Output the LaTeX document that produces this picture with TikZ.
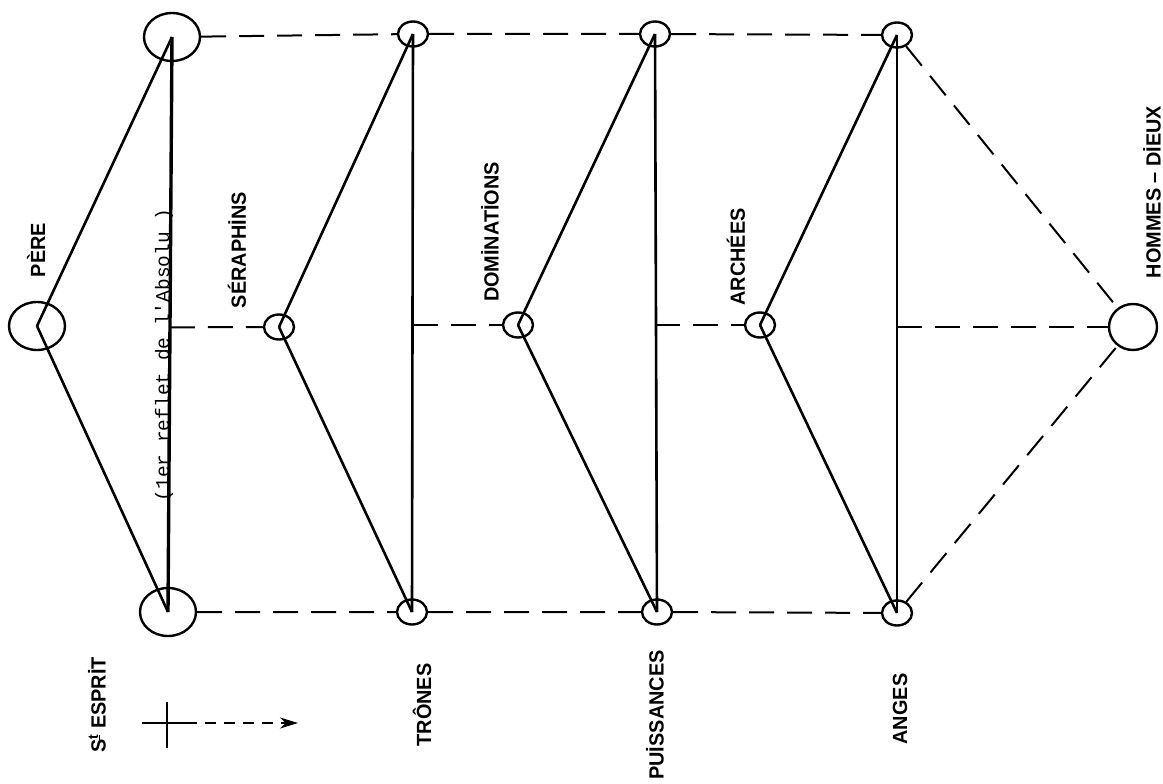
\documentclass[tikz,border=0pt]{standalone}
\usepackage{fontspec}
\setmainfont{Liberation Sans}
\newfontfamily\rankfont[FakeStretch=0.97]{Liberation Sans}
\newfontfamily\typefont[Ligatures=ResetAll]{Liberation Mono}
\usetikzlibrary{arrows.meta,shapes.geometric,calc}

\begin{document}
\begin{tikzpicture}[
  x=1pt, y=-1pt,
  bigring/.style={ellipse, draw, line width=2.4pt, minimum width=56pt, minimum height=48pt, inner sep=0pt},
  smallring/.style={ellipse, draw, line width=2.4pt, minimum width=30pt, minimum height=25pt, inner sep=0pt},
  rank/.style={rotate=90, font=\rankfont\bfseries\fontsize{20.5}{20.5}\selectfont, inner sep=0pt},
  plain edge/.style={draw, line width=2.6pt},
  dash edge/.style={draw, line width=2pt, dash pattern=on 25pt off 13pt}
]
\useasboundingbox (0,0) rectangle (1163,784);

% les cercles
\node[bigring] (pere) at (37,326) {};
\node[bigring] (fils) at (172,37) {};
\node[bigring] (esprit) at (168,612) {};
\node[smallring] (ser) at (279,327) {};
\node[smallring] (troT) at (413,34) {};
\node[smallring] (troB) at (412,612) {};
\node[smallring] (dom) at (518,325) {};
\node[smallring] (puiT) at (655,34) {};
\node[smallring] (puiB) at (657,612) {};
\node[smallring] (arc) at (760,325) {};
\node[smallring] (angT) at (897,35) {};
\node[smallring] (angB) at (897,613) {};
\node[bigring, minimum width=48pt, minimum height=46pt] (hom) at (1133,327) {};

% les triangles
\draw[plain edge] (pere.center) -- (fils.center);
\draw[plain edge] (pere.center) -- (esprit.center);
\draw[plain edge, line width=3.4pt] (fils.center) -- (esprit.center);
\draw[plain edge] (ser.center) -- (troT.center);
\draw[plain edge] (ser.center) -- (troB.center);
\draw[plain edge] (troT.center) -- (troB.center);
\draw[plain edge] (dom.center) -- (puiT.center);
\draw[plain edge] (dom.center) -- (puiB.center);
\draw[plain edge] (puiT.center) -- (puiB.center);
\draw[plain edge] (arc.center) -- (angT.center);
\draw[plain edge] (arc.center) -- (angB.center);
\draw[plain edge] (angT.center) -- (angB.center);

% les pointilles
\coordinate (m0) at ($(fils.center)!0.505!(esprit.center)$);
\coordinate (m1) at (troT.center |- dom.center);
\coordinate (m2) at (puiT.center |- arc.center);
\coordinate (m3) at (angT.center |- hom.center);
\draw[dash edge] (fils) -- (troT) -- (puiT) -- (angT);
\draw[dash edge] (esprit) -- (troB) -- (puiB) -- (angB);
\draw[dash edge] (m0) -- (ser);
\draw[dash edge] (m1) -- (dom);
\draw[dash edge] (m2) -- (arc);
\draw[dash edge] (m3) -- (hom);
\draw[dash edge] (angT) -- (hom);
\draw[dash edge] (angB) -- (hom);

% la croix
\coordinate (croixH) at (167,702);
\coordinate (croixB) at (167,748);
\coordinate (croixG) at (142,723);
\coordinate (croixM) at (186,723);
\coordinate (fleche) at (298,723);
\draw[plain edge] (croixH) -- (croixB);
\draw[plain edge] (croixG) -- (croixM);
\draw[line width=1.8pt, dash pattern=on 11pt off 8pt, -{Stealth[length=18pt, width=11pt]}] (croixM) -- (fleche);

% les noms
\node[rotate=90, anchor=base, inner sep=0pt, font=\typefont\fontsize{19.5}{20}\selectfont] (reflet) at (169,355) {(1er reflet de l'Absolu )};
\node[rank] (pereL) at (36,250) {PÈRE};
\node[rank] (serL) at (237,250) {SÉRAPHİNS};
\node[rank] (domL) at (490,232) {DOMİNATİONS};
\node[rank] (arcL) at (736,257) {ARCHÉES};
\node[rank] (homL) at (1152,192) {HOMMES – DİEUX};
\node[rank] (espL) at (97,705) {S\textsuperscript{\underline{t}} ESPRİT};
\node[rank] (troL) at (422,705) {TRÔNES};
\node[rank] (puiL) at (655,715) {PUİSSANCES};
\node[rank] (angL) at (900,709) {ANGES};
\end{tikzpicture}
\end{document}
